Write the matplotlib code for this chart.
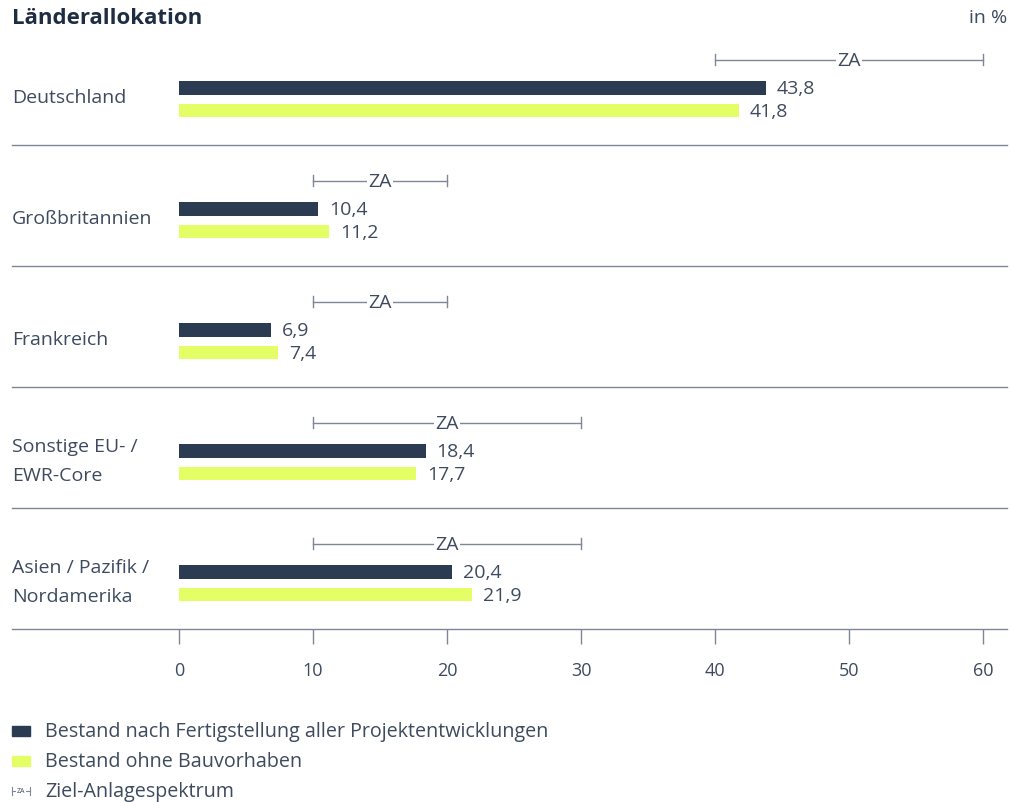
import matplotlib
matplotlib.use("Agg")
import matplotlib.pyplot as plt
from matplotlib.patches import Rectangle
from matplotlib.lines import Line2D

plt.rcParams['font.family'] = ['Open Sans', 'DejaVu Sans']

# data
laender = ["Deutschland", "Großbritannien", "Frankreich", "Sonstige EU- /\nEWR-Core",
           "Asien / Pazifik /\nNordamerika"]
nach_fertigstellung = [43.8, 10.4, 6.9, 18.4, 20.4]
ohne_bauvorhaben = [41.8, 11.2, 7.4, 17.7, 21.9]
za_min = [40, 10, 10, 10, 10]
za_max = [60, 20, 20, 30, 30]
xticks = [0, 10, 20, 30, 40, 50, 60]

DARK = "#2b3b52"
LIME = "#e4ff66"
TXT = "#3e4b5f"
LINE = "#7d8797"

W, H = 1011, 803
fig = plt.figure(figsize=(W / 100, H / 100), dpi=100)

# axes in pixel layout: x from 12 to 1007, y from 25 to 630
ax = fig.add_axes([12 / W, 1 - 630 / H, (1007 - 12) / W, (630 - 25) / H])
px_per_unit = (983 - 179) / 60.0
ax.set_xlim((12 - 179) / px_per_unit, (1007 - 179) / px_per_unit)
n = len(laender)
ax.set_ylim(n, 0)

def fmt(v):
    return f"{v:.1f}".replace(".", ",")

bh = 0.115
for i in range(n):
    y_dark = i + 0.53
    y_lime = i + 0.715
    y_za = i + 0.295
    ax.barh(y_dark, nach_fertigstellung[i], height=bh, color=DARK, left=0)
    ax.barh(y_lime, ohne_bauvorhaben[i], height=bh, color=LIME, left=0)
    ax.text(nach_fertigstellung[i] + 0.8, y_dark, fmt(nach_fertigstellung[i]),
            va="center", ha="left", fontsize=14, color=TXT)
    ax.text(ohne_bauvorhaben[i] + 0.8, y_lime, fmt(ohne_bauvorhaben[i]),
            va="center", ha="left", fontsize=14, color=TXT)
    # target range
    mid = (za_min[i] + za_max[i]) / 2
    ax.plot([za_min[i], za_max[i]], [y_za, y_za], color=LINE, lw=1)
    ax.plot([za_min[i], za_min[i]], [y_za - 0.045, y_za + 0.045], color=LINE, lw=1)
    ax.plot([za_max[i], za_max[i]], [y_za - 0.045, y_za + 0.045], color=LINE, lw=1)
    ax.text(mid, y_za, "ZA", ha="center", va="center", fontsize=14, color=TXT,
            bbox=dict(facecolor="white", edgecolor="none", pad=0.5))
    # category label
    ax.text(ax.get_xlim()[0], i + 0.605, laender[i], ha="left", va="center",
            fontsize=14, color=TXT, linespacing=1.8)
    # separator
    ax.axhline(i + 1, color=LINE, lw=1, clip_on=False)

for s in ["top", "right", "left", "bottom"]:
    ax.spines[s].set_visible(False)
ax.set_yticks([])
ax.set_xticks(xticks)
ax.set_xticklabels([str(t) for t in xticks])
ax.tick_params(axis="x", length=11, width=1, color=LINE, labelcolor=TXT,
               labelsize=13, pad=12)

# title
fig.text(12 / W, 1 - 18 / H, "Länderallokation", fontsize=16, fontweight="bold",
         color="#1f2d42", va="center", ha="left")
fig.text(1007 / W, 1 - 18 / H, "in %", fontsize=14, color=TXT, va="center", ha="right")

# legend
leg_items = [("Bestand nach Fertigstellung aller Projektentwicklungen", DARK, 732),
             ("Bestand ohne Bauvorhaben", LIME, 762)]
for label, col, py in leg_items:
    fig.patches.append(Rectangle((12 / W, 1 - (py + 5) / H), 18 / W, 10 / H,
                                 transform=fig.transFigure, color=col))
    fig.text(45 / W, 1 - py / H, label, fontsize=14.2, color=TXT, va="center", ha="left")

py = 792
fig.lines.append(Line2D([12 / W, 30 / W], [1 - py / H, 1 - py / H],
                        transform=fig.transFigure, color=LINE, lw=0.8))
for xx in (12, 30):
    fig.lines.append(Line2D([xx / W, xx / W], [1 - (py - 4) / H, 1 - (py + 4) / H],
                            transform=fig.transFigure, color=LINE, lw=0.8))
fig.text(21 / W, 1 - py / H, "ZA", fontsize=5, color=TXT, va="center", ha="center",
         bbox=dict(facecolor="white", edgecolor="none", pad=0.3))
fig.text(45 / W, 1 - py / H, "Ziel-Anlagespektrum", fontsize=14.2, color=TXT,
         va="center", ha="left")

fig.savefig("out.png", dpi=100, facecolor="white")
